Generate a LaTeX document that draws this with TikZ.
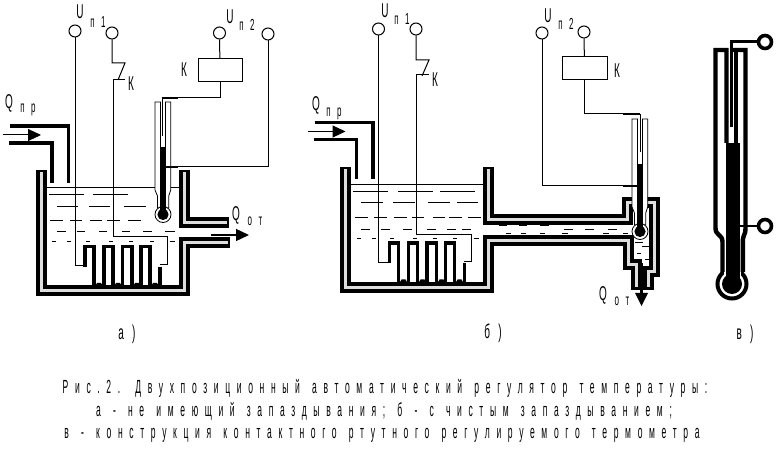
\documentclass[tikz,border=0pt]{standalone}
\usepackage{fontspec}
\usetikzlibrary{calc}
\usetikzlibrary{arrows, arrows.meta}
\setmainfont{Liberation Sans}[FakeStretch=0.5, LetterSpace=20, WordSpace=1.2]
\newfontfamily\captionfont{Liberation Sans}[FakeStretch=0.45, LetterSpace=35, WordSpace=1.35]
\definecolor{wallgrey}{gray}{0.87}

\begin{document}
\begin{tikzpicture}[x=1pt, y=-1pt, line join=miter]

\useasboundingbox (0, 0) rectangle (777, 449) ;

\tikzstyle{wire} = [line width=1pt, black]
\tikzstyle{thick contact} = [line width=2.6pt, black]
\tikzstyle{terminal} = [shape=circle, draw=black, line width=1pt, fill=white, inner sep=0pt, minimum size=12pt]
\tikzstyle{relay} = [shape=rectangle, draw=black, line width=1pt, inner sep=0pt]
\tikzstyle{pipe line} = [line width=3.6pt, black]
\tikzstyle{wall line} = [line width=11pt, black]
\tikzstyle{wall core} = [line width=3pt, wallgrey, shorten <=2.5pt, shorten >=2.5pt]
\tikzstyle{water line} = [line width=.8pt, black]
\tikzstyle{heater line} = [line width=3.6pt, black]
\tikzstyle{flow line} = [line width=1pt, black, -{Triangle[length=13pt, width=12pt]}]
\tikzstyle{main label} = [inner sep=0pt, font=\fontsize{20}{20}\selectfont]
\tikzstyle{index label} = [inner sep=0pt, font=\fontsize{16}{16}\selectfont]
\tikzstyle{caption line} = [inner sep=0pt, font=\fontsize{19}{19}\captionfont]

\newcommand\wallpath[1]{
	\draw [wall line] #1 ;
	\draw [wall core] #1 ;
}
\newcommand\waterrow[2]{
	\foreach \xa/\xb in {#2}
		\draw [water line] (\xa, #1) -- (\xb, #1) ;
}

% inlet pipe, drawn for panel a and shifted for panel b

\newcommand\inletpipe{
	\draw [pipe line] (10, 126) -- (68.5, 126) -- (68.5, 183) ;
	\draw [pipe line] (9, 143) -- (52, 143) -- (52, 183) ;
	\draw [flow line] (3, 135) -- (41, 135) ;
}

% heater legs

\newcommand\heaterlegs{
	\draw [heater line] (85, 267) -- (85, 246.5) -- (94, 246.5) -- (94, 287) ;
	\draw [heater line] (104, 287) -- (104, 246.5) -- (113, 246.5) -- (113, 287) ;
	\draw [heater line] (122.5, 287) -- (122.5, 246.5) -- (132, 246.5) -- (132, 287) ;
	\draw [heater line] (141, 287) -- (141, 246.5) -- (150, 246.5) -- (150, 287) ;
	\draw [heater line] (160, 267) -- (160, 287) ;
	\foreach \xbump in {94, 113, 132, 150}
		\fill [black] (\xbump, 288) -- (\xbump + 3, 283) -- (\xbump + 7, 283) -- (\xbump + 10, 288) -- cycle ;
}

% thin thermometer of panels a and b

\newcommand\thinthermometer{
	\draw [wire, fill=white, line width=.8pt]
		(155, 102) -- (160.5, 102) -- (165.7, 102) -- (170.7, 102) -- (170.7, 190)
		-- (168.7, 196) -- (168.7, 208) -- (157.5, 208) -- (157.5, 196) -- (155, 190) -- cycle ;
	\fill [white] (160.9, 101) rectangle (165.3, 103) ;
	\draw [wire, line width=.8pt] (160.5, 102) -- (160.5, 147) ;
	\draw [wire, line width=.8pt] (165.7, 102) -- (165.7, 147) ;
	\draw [wire, fill=white, line width=.8pt] (163, 214.5) circle (8) ;
	\fill [black] (160.3, 147) rectangle (165.7, 214) ;
	\fill [black] (163, 214.5) circle (5.6) ;
}

% panel a

\draw [water line] (46, 187) -- (179, 187) ;
\waterrow{194}{49/84, 93/128}
\waterrow{206}{57/78, 89/110, 124/146}
\waterrow{220}{50/63, 70/82, 90/102, 107/120, 128/141}
\waterrow{231}{57/66, 77/85, 99/107, 122/130, 143/152, 165/175}
\waterrow{241}{52/56, 67/71, 86/90, 109/113, 129/133, 150/154, 170/175}

\heaterlegs
\inletpipe
\wallpath{(41, 170) -- (41, 291) -- (184.5, 291) -- (184.5, 243) -- (230, 243)}
\wallpath{(184.5, 170) -- (184.5, 223) -- (229, 223)}

\draw [flow line, line width=1.4pt] (211, 235) -- (249, 235) ;

\node [terminal] (terma1) at (75, 31) {} ;
\node [terminal] (terma2) at (112, 33) {} ;
\node [terminal] (terma3) at (219.5, 33) {} ;
\node [terminal] (terma4) at (268, 34) {} ;
\node [relay, minimum width=44pt, minimum height=23pt] (relaya) at (220, 70.5) {} ;

\coordinate (heatera1) at (85, 266) ;
\coordinate (heatera2) at (160, 265) ;
\coordinate (keyuppera) at (125, 63) ;
\coordinate (keylowera) at (125, 80) ;
\coordinate (keytipa) at (118, 80) ;
\coordinate (topa) at (162, 98) ;
\coordinate (capillarya) at (162, 136) ;
\coordinate (contacta) at (166, 167) ;

\draw [wire] (terma1.south) |- (heatera1) ;
\draw [wire] (terma2.south) |- (keyuppera) -- (keytipa) ;
\draw [wire] (keylowera) -- (113, 80) -- (113, 237) -| (167, 265) -- (heatera2) ;
\draw [wire] (terma3) -- (relaya) ;
\draw [wire] (relaya.south) |- (topa) -- (capillarya) ;
\draw [wire] (terma4.south) |- (contacta) ;

\thinthermometer
\draw [wire] (topa) -- (capillarya) ;
\draw [thick contact] (topa) -- ++(16, 0) ;
\draw [thick contact] (contacta) -- ++(12, 0) ;

% panel b

\draw [water line] (350, 184) -- (483, 184) ;
\waterrow{191}{353/388, 398/433, 440/475}
\waterrow{202}{361/383, 393/415, 428/450, 457/478}
\waterrow{217}{355/368, 374/387, 394/407, 412/424, 433/445, 449/462, 468/481}
\waterrow{229}{361/370, 381/390, 403/412, 427/436, 447/456, 462/471, 564/573, 585/594, 608/617}
\waterrow{238}{357/361, 372/376, 390/394, 413/417, 433/437, 453/457, 474/479}
\waterrow{225}{499/507, 519/527, 540/549}
\waterrow{233}{506/511, 521/526, 540/545, 562/568, 603/609, 623/628}
\waterrow{242}{635/643}
\waterrow{246}{642/650}
\waterrow{253}{637/641}
\waterrow{259}{645/650}

\begin{scope}[shift={(304.5, -3.5)}]
\heaterlegs
\inletpipe
\end{scope}

\wallpath{(345, 167) -- (345, 288) -- (488.5, 288) -- (488.5, 240.5) -- (628, 240.5) -- (628, 265) -- (636, 265) -- (636, 290)}
\wallpath{(488.5, 167) -- (488.5, 220) -- (627.5, 220) -- (627.5, 203) -- (654.5, 203) -- (654.5, 272) -- (648, 272) -- (648, 290)}

\draw [line width=2.4pt, black] (641.5, 263) -- (641.5, 296) ;
\fill [black] (635, 293) -- (648, 293) -- (641.5, 306) -- cycle ;

\node [terminal] (termb1) at (378.5, 29) {} ;
\node [terminal] (termb2) at (416, 29) {} ;
\node [terminal] (termb3) at (542, 33) {} ;
\node [terminal] (termb4) at (584, 32) {} ;
\node [relay, minimum width=45pt, minimum height=23pt] (relayb) at (584.5, 68.5) {} ;

\coordinate (heaterb1) at (389, 263) ;
\coordinate (heaterb2) at (464, 262) ;
\coordinate (keyupperb) at (429, 60) ;
\coordinate (keylowerb) at (429, 75) ;
\coordinate (keytipb) at (422, 76) ;
\coordinate (topb) at (640, 114) ;
\coordinate (capillaryb) at (640, 152) ;
\coordinate (contactb) at (640, 186) ;

\draw [wire] (termb1.south) |- (heaterb1) ;
\draw [wire] (termb2.south) |- (keyupperb) -- (keytipb) ;
\draw [wire] (keylowerb) -- (416.5, 75) -- (416.5, 235) -| (471, 262) -- (heaterb2) ;
\draw [wire] (termb3.south) |- (contactb) ;
\draw [wire] (termb4) -- (relayb) ;
\draw [wire] (relayb.south) |- (topb) ;

\begin{scope}[shift={(477, 17)}]
\thinthermometer
\end{scope}
\draw [wire] (topb) -- (capillaryb) ;
\draw [thick contact, line width=1.8pt] (topb) -- ++(-17, 0) ;
\draw [thick contact, line width=1.8pt] (contactb) -- ++(-17, 0) ;

% panel v

\draw [line width=4pt, black, fill=white] (732, 284) circle (14.5) ;
\fill [white] (724, 262) rectangle (741, 276) ;
\fill [black] (732, 284) circle (10) ;
\draw [line width=4.4pt, black] (726.5, 143) -- (726.5, 50) -- (715.5, 50) -- (715.5, 228)
	.. controls (715.5, 236) and (722.5, 234) .. (722.5, 242) -- (722.5, 272) ;
\draw [line width=4.4pt, black] (733, 50) -- (745.5, 50) -- (745.5, 228)
	.. controls (745.5, 236) and (742.8, 234) .. (742.8, 242) -- (742.8, 272) ;
\fill [black] (726, 143) rectangle (739.5, 284) ;
\fill [black] (733.5, 50) rectangle (738, 143) ;

\node [terminal, line width=3.6pt, minimum size=13pt] (termv1) at (765, 42) {} ;
\node [terminal, line width=3.6pt, minimum size=13pt] (termv2) at (765, 226) {} ;
\coordinate (wirev1) at (731.5, 127) ;
\coordinate (wirev2) at (739, 226) ;

\draw [line width=3pt, black] (termv1.west) -| (wirev1) ;
\draw [line width=2.4pt, black] (termv2.west) -- (wirev2) ;

% text

\node [main label] (ua1) at (80, 12) {U} ;
\node [index label] (ia1) at (98, 22) {п 1} ;
\node [main label] (ua2) at (230, 17) {U} ;
\node [index label] (ia2) at (247, 25) {п 2} ;
\node [main label] (ka1) at (131, 84) {К} ;
\node [main label] (ka2) at (184, 70) {К} ;
\node [main label] (qa1) at (9, 103) {Q} ;
\node [index label] (qia1) at (28, 110) {п р} ;
\node [main label] (qa2) at (236, 215) {Q} ;
\node [index label] (qia2) at (255, 221) {о т} ;

\node [main label] (ub1) at (385, 11) {U} ;
\node [index label] (ib1) at (402, 19) {п 1} ;
\node [main label] (ub2) at (548, 16) {U} ;
\node [index label] (ib2) at (566, 24) {п 2} ;
\node [main label] (kb1) at (435, 80) {К} ;
\node [main label] (kb2) at (617, 71) {К} ;
\node [main label] (qb1) at (316, 105) {Q} ;
\node [index label] (qib1) at (334, 114) {п р} ;
\node [main label] (qb2) at (603, 295) {Q} ;
\node [index label] (qib2) at (622, 301) {о т} ;

\node [main label] (panela) at (127, 334) {а )} ;
\node [main label] (panelb) at (493, 333) {б )} ;
\node [main label] (panelv) at (745, 334) {в )} ;

\node [caption line] (captiona) at (385, 388) {Рис.2. Двухпозиционный автоматический регулятор температуры:} ;
\node [caption line] (captionb) at (384, 411) {а - не имеющий запаздывания; б - с чистым запаздыванием;} ;
\node [caption line] (captionc) at (382, 435) {в - конструкция контактного ртутного регулируемого термометра} ;

\end{tikzpicture}
\end{document}
